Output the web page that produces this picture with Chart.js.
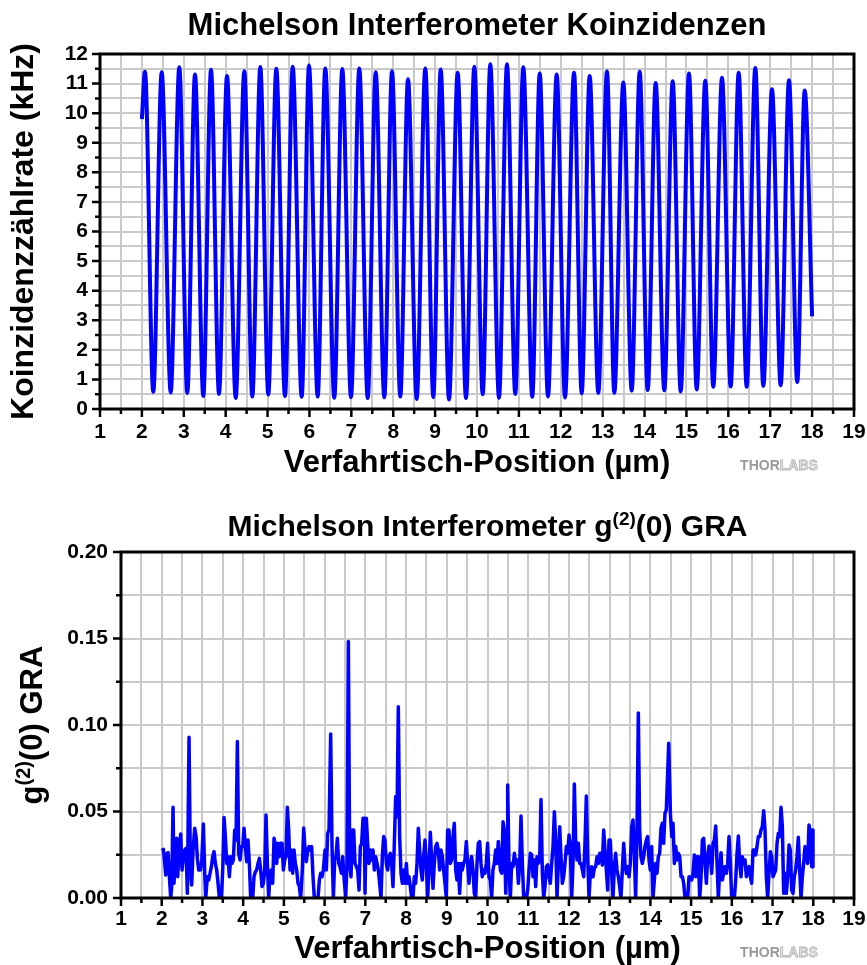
<!DOCTYPE html>
<html>
<head>
<meta charset="utf-8">
<title>Michelson Interferometer</title>
<script src="https://cdn.jsdelivr.net/npm/chart.js@4.4.1/dist/chart.umd.min.js"></script>
<style>
  html, body { margin: 0; padding: 0; background: #fff; }
  #wrap { position: relative; width: 867px; height: 965px; }
  canvas { position: absolute; left: 0; }
  #koinz { top: 0; }
  #g2 { top: 490px; }
</style>
</head>
<body>
<div id="wrap">
  <canvas id="koinz" width="867" height="490"></canvas>
  <canvas id="g2" width="867" height="475"></canvas>
</div>
<script>
// Coincidence rate (kHz) at each fringe extremum along the stage position (µm)
const coincPos = [
  2.000, 2.074, 2.272, 2.473, 2.688, 2.893, 3.084, 3.268, 3.466, 3.650,
  3.841, 4.032, 4.240, 4.445, 4.636, 4.827, 5.018, 5.209, 5.416, 5.600,
  5.815, 5.989, 6.197, 6.378, 6.593, 6.784, 6.992, 7.190, 7.391, 7.582,
  7.787, 7.971, 8.169, 8.353, 8.560, 8.766, 8.957, 9.133, 9.332, 9.539,
  9.737, 9.936, 10.136, 10.317, 10.525, 10.716, 10.914, 11.105, 11.320, 11.497,
  11.695, 11.903, 12.101, 12.316, 12.499, 12.690, 12.896, 13.103, 13.278, 13.493,
  13.693, 13.884, 14.075, 14.266, 14.471, 14.672, 14.863, 15.061, 15.245, 15.450,
  15.641, 15.849, 16.056, 16.247, 16.438, 16.644, 16.835, 17.042, 17.250, 17.448,
  17.646, 17.823, 18.000
];
const coincRate = [
  9.80, 11.40, 0.58, 11.38, 0.56, 11.55, 0.54, 11.31, 0.44, 11.47,
  0.51, 11.26, 0.37, 11.42, 0.42, 11.56, 0.49, 11.50, 0.44, 11.57,
  0.41, 11.61, 0.42, 11.51, 0.38, 11.49, 0.40, 11.51, 0.37, 11.38,
  0.40, 11.42, 0.42, 11.15, 0.34, 11.51, 0.40, 11.48, 0.32, 11.37,
  0.37, 11.57, 0.50, 11.65, 0.38, 11.65, 0.51, 11.55, 0.41, 11.34,
  0.42, 11.31, 0.39, 11.37, 0.53, 11.26, 0.54, 11.41, 0.55, 11.04,
  0.62, 11.40, 0.64, 11.02, 0.63, 11.08, 0.59, 11.34, 0.66, 11.10,
  0.75, 11.20, 0.76, 11.37, 0.75, 11.53, 0.78, 10.81, 0.80, 11.11,
  0.91, 10.77, 3.13
];

// g(2)(0) along the same stage positions
const g2Pos = [
  2.000, 2.041, 2.074, 2.098, 2.131, 2.155, 2.188, 2.221,
  2.245, 2.278, 2.303, 2.336, 2.368, 2.393, 2.426, 2.466,
  2.499, 2.532, 2.565, 2.597, 2.630, 2.671, 2.704, 2.736,
  2.769, 2.810, 2.843, 2.876, 2.908, 2.949, 2.982, 3.023,
  3.056, 3.080, 3.121, 3.154, 3.187, 3.219, 3.252, 3.285,
  3.318, 3.350, 3.383, 3.416, 3.465, 3.498, 3.530, 3.563,
  3.596, 3.628, 3.661, 3.694, 3.727, 3.759, 3.792, 3.825,
  3.858, 3.890, 3.923, 3.956, 3.989, 4.021, 4.054, 4.087,
  4.119, 4.152, 4.185, 4.234, 4.267, 4.300, 4.332, 4.365,
  4.398, 4.430, 4.463, 4.496, 4.529, 4.561, 4.594, 4.627,
  4.660, 4.692, 4.725, 4.758, 4.791, 4.823, 4.856, 4.889,
  4.921, 4.954, 4.987, 5.020, 5.052, 5.085, 5.118, 5.151,
  5.183, 5.216, 5.249, 5.281, 5.314, 5.347, 5.380, 5.412,
  5.453, 5.486, 5.519, 5.552, 5.584, 5.617, 5.650, 5.682,
  5.715, 5.748, 5.797, 5.838, 5.871, 5.903, 5.936, 5.969,
  6.010, 6.043, 6.075, 6.108, 6.149, 6.182, 6.215, 6.247,
  6.280, 6.313, 6.346, 6.378, 6.411, 6.444, 6.476, 6.517,
  6.550, 6.583, 6.616, 6.648, 6.681, 6.714, 6.746, 6.779,
  6.812, 6.845, 6.877, 6.910, 6.943, 6.976, 6.992, 7.025,
  7.057, 7.090, 7.123, 7.156, 7.188, 7.221, 7.254, 7.287,
  7.319, 7.352, 7.385, 7.418, 7.450, 7.483, 7.516, 7.548,
  7.581, 7.614, 7.647, 7.679, 7.712, 7.745, 7.778, 7.810,
  7.843, 7.876, 7.909, 7.941, 7.974, 8.007, 8.039, 8.072,
  8.105, 8.138, 8.170, 8.203, 8.236, 8.269, 8.301, 8.334,
  8.367, 8.399, 8.432, 8.465, 8.498, 8.530, 8.563, 8.596,
  8.629, 8.661, 8.694, 8.727, 8.760, 8.792, 8.825, 8.858,
  8.891, 8.923, 8.956, 8.989, 9.021, 9.054, 9.087, 9.120,
  9.152, 9.185, 9.218, 9.251, 9.283, 9.316, 9.349, 9.381,
  9.414, 9.447, 9.480, 9.512, 9.545, 9.578, 9.611, 9.643,
  9.676, 9.709, 9.742, 9.774, 9.807, 9.840, 9.872, 9.905,
  9.938, 9.971, 10.003, 10.036, 10.069, 10.102, 10.134, 10.167,
  10.200, 10.233, 10.265,
  10.316, 10.349, 10.381, 10.414, 10.447, 10.480, 10.496, 10.529,
  10.561, 10.594, 10.627, 10.660, 10.692, 10.725, 10.758, 10.791,
  10.823, 10.856, 10.889, 10.921, 10.954, 10.987, 11.020, 11.052,
  11.085, 11.118, 11.151, 11.183, 11.216, 11.249, 11.282, 11.314,
  11.347, 11.380, 11.412, 11.445, 11.478, 11.511, 11.543, 11.576,
  11.609, 11.642, 11.674, 11.707, 11.740, 11.773, 11.805, 11.838,
  11.871, 11.903, 11.936, 11.969, 12.002, 12.034, 12.067, 12.100,
  12.133, 12.165, 12.198, 12.231, 12.264, 12.296, 12.329, 12.362,
  12.394, 12.427, 12.460, 12.493, 12.525, 12.558, 12.591, 12.624,
  12.656, 12.689, 12.722, 12.755, 12.787, 12.820, 12.853, 12.885,
  12.918, 12.951, 12.984, 13.016, 13.049, 13.082, 13.115, 13.147,
  13.180, 13.213, 13.245, 13.278, 13.311, 13.344, 13.376, 13.409,
  13.442, 13.475, 13.507, 13.540, 13.573, 13.606, 13.638, 13.671,
  13.704, 13.737, 13.769, 13.802, 13.835, 13.867, 13.900, 13.933,
  13.966, 13.998, 14.031, 14.064, 14.097, 14.129, 14.162, 14.195,
  14.228, 14.260, 14.293, 14.326, 14.358, 14.391, 14.450,
  14.491, 14.524, 14.556, 14.589, 14.622, 14.655, 14.687, 14.720,
  14.753, 14.786, 14.818, 14.851, 14.884, 14.916, 14.949, 14.982,
  15.015, 15.047, 15.080, 15.113, 15.146, 15.178, 15.211, 15.244,
  15.277, 15.309, 15.342, 15.375, 15.407, 15.440, 15.473, 15.506,
  15.538, 15.571, 15.604, 15.637, 15.669, 15.702, 15.735, 15.768,
  15.800, 15.833, 15.866, 15.898, 15.931, 15.964, 15.997, 16.029,
  16.062, 16.095, 16.128, 16.160, 16.193, 16.226, 16.258, 16.291,
  16.324, 16.357, 16.389, 16.422, 16.455, 16.488, 16.520, 16.553,
  16.586, 16.619, 16.651, 16.684, 16.717, 16.749, 16.782, 16.815,
  16.848, 16.880, 16.913, 16.946, 16.979, 17.011, 17.044, 17.077,
  17.110, 17.142, 17.175, 17.208, 17.241, 17.273, 17.306, 17.339,
  17.371, 17.404, 17.437, 17.470, 17.502, 17.535, 17.568, 17.601,
  17.633, 17.666, 17.699, 17.731, 17.764, 17.797, 17.830, 17.862,
  17.895, 17.928, 17.961, 17.977, 17.993
];
const g2Val = [
  0.0274, 0.0281, 0.0200, 0.0133, 0.0258, 0.0262, 0.0123, 0.0000,
  0.0066, 0.0524, 0.0085, 0.0335, 0.0345, 0.0123, 0.0277, 0.0370,
  0.0162, 0.0239, 0.0277, 0.0287, 0.0027, 0.0929, 0.0162, 0.0075,
  0.0277, 0.0403, 0.0355, 0.0229, 0.0162, 0.0162, 0.0210, 0.0428,
  0.0143, 0.0000, 0.0123, 0.0104, 0.0143, 0.0181, 0.0239, 0.0268,
  0.0200, 0.0162, 0.0085, 0.0000, 0.0000, 0.0162, 0.0466, 0.0355,
  0.0200, 0.0239, 0.0123, 0.0239, 0.0200, 0.0220, 0.0393, 0.0335,
  0.0904, 0.0258, 0.0220, 0.0297, 0.0297, 0.0403, 0.0297, 0.0210,
  0.0335, 0.0200, 0.0000, 0.0000, 0.0123, 0.0152, 0.0162, 0.0200,
  0.0229, 0.0162, 0.0066, 0.0085, 0.0162, 0.0480, 0.0200, 0.0000,
  0.0143, 0.0162, 0.0085, 0.0345, 0.0306, 0.0200, 0.0316, 0.0239,
  0.0316, 0.0316, 0.0162, 0.0220, 0.0239, 0.0524, 0.0393, 0.0162,
  0.0277, 0.0143, 0.0277, 0.0200, 0.0162, 0.0085, 0.0066, 0.0000,
  0.0162, 0.0405, 0.0277, 0.0210, 0.0277, 0.0297, 0.0277, 0.0297,
  0.0123, 0.0000, 0.0000, 0.0000, 0.0104, 0.0143, 0.0123, 0.0162,
  0.0277, 0.0162, 0.0374, 0.0393, 0.0948, 0.0297, 0.0000, 0.0220,
  0.0239, 0.0345, 0.0200, 0.0181, 0.0143, 0.0239, 0.0123, 0.0000,
  0.0200, 0.1482, 0.0200, 0.0123, 0.0393, 0.0393, 0.0200, 0.0181,
  0.0162, 0.0046, 0.0297, 0.0316, 0.0461, 0.0461, 0.0027, 0.0461,
  0.0316, 0.0200, 0.0277, 0.0220, 0.0277, 0.0162, 0.0239, 0.0200,
  0.0162, 0.0085, 0.0000, 0.0239, 0.0355, 0.0335, 0.0200, 0.0162,
  0.0239, 0.0258, 0.0200, 0.0066, 0.0316, 0.0586, 0.0470, 0.1106,
  0.0355, 0.0143, 0.0085, 0.0162, 0.0085, 0.0200, 0.0085, 0.0123,
  0.0066, 0.0000, 0.0000, 0.0123, 0.0085, 0.0200, 0.0403, 0.0277,
  0.0162, 0.0104, 0.0239, 0.0335, 0.0200, 0.0000, 0.0162, 0.0380,
  0.0220, 0.0056, 0.0200, 0.0297, 0.0316, 0.0277, 0.0162, 0.0277,
  0.0239, 0.0162, 0.0085, 0.0000, 0.0393, 0.0393, 0.0200, 0.0220,
  0.0355, 0.0432, 0.0162, 0.0104, 0.0200, 0.0027, 0.0200, 0.0162,
  0.0200, 0.0220, 0.0326, 0.0200, 0.0085, 0.0200, 0.0239, 0.0162,
  0.0027, 0.0000, 0.0200, 0.0316, 0.0326, 0.0200, 0.0123, 0.0162,
  0.0143, 0.0200, 0.0316, 0.0123, 0.0104, 0.0000, 0.0162, 0.0200,
  0.0277, 0.0200, 0.0326,
  0.0162, 0.0143, 0.0441, 0.0393, 0.0027, 0.0393, 0.0653, 0.0162,
  0.0000, 0.0200, 0.0181, 0.0258, 0.0200, 0.0220, 0.0085, 0.0200,
  0.0474, 0.0200, 0.0000, 0.0000, 0.0000, 0.0046, 0.0162, 0.0258,
  0.0249, 0.0123, 0.0220, 0.0066, 0.0239, 0.0200, 0.0229, 0.0570,
  0.0143, 0.0000, 0.0066, 0.0181, 0.0191, 0.0123, 0.0085, 0.0200,
  0.0297, 0.0499, 0.0335, 0.0000, 0.0200, 0.0412, 0.0239, 0.0085,
  0.0123, 0.0200, 0.0297, 0.0258, 0.0364, 0.0297, 0.0000, 0.0200,
  0.0659, 0.0335, 0.0220, 0.0316, 0.0200, 0.0200, 0.0162, 0.0123,
  0.0316, 0.0590, 0.0239, 0.0000, 0.0143, 0.0181, 0.0123, 0.0172,
  0.0181, 0.0239, 0.0200, 0.0258, 0.0258, 0.0191, 0.0393, 0.0277,
  0.0162, 0.0046, 0.0335, 0.0335, 0.0143, 0.0000, 0.0181, 0.0258,
  0.0162, 0.0123, 0.0066, 0.0000, 0.0162, 0.0316, 0.0200, 0.0143,
  0.0181, 0.0123, 0.0200, 0.0412, 0.0451, 0.0258, 0.0000, 0.0393,
  0.1070, 0.0393, 0.0239, 0.0200, 0.0239, 0.0297, 0.0335, 0.0355,
  0.0220, 0.0162, 0.0297, 0.0000, 0.0104, 0.0200, 0.0143, 0.0239,
  0.0258, 0.0403, 0.0432, 0.0316, 0.0489, 0.0509, 0.0894,
  0.0489, 0.0355, 0.0432, 0.0200, 0.0297, 0.0220, 0.0258, 0.0239,
  0.0123, 0.0123, 0.0085, 0.0000, 0.0000, 0.0000, 0.0123, 0.0114,
  0.0104, 0.0143, 0.0249, 0.0123, 0.0239, 0.0239, 0.0000, 0.0123,
  0.0335, 0.0345, 0.0200, 0.0085, 0.0239, 0.0301, 0.0239, 0.0143,
  0.0316, 0.0335, 0.0416, 0.0200, 0.0000, 0.0162, 0.0262, 0.0104,
  0.0143, 0.0181, 0.0143, 0.0200, 0.0355, 0.0200, 0.0000, 0.0000,
  0.0000, 0.0104, 0.0258, 0.0358, 0.0200, 0.0123, 0.0239, 0.0200,
  0.0220, 0.0123, 0.0162, 0.0181, 0.0123, 0.0085, 0.0277, 0.0277,
  0.0249, 0.0297, 0.0355, 0.0355, 0.0393, 0.0412, 0.0505, 0.0393,
  0.0123, 0.0000, 0.0143, 0.0268, 0.0239, 0.0123, 0.0143, 0.0162,
  0.0316, 0.0374, 0.0355, 0.0524, 0.0412, 0.0027, 0.0143, 0.0027,
  0.0123, 0.0306, 0.0277, 0.0046, 0.0027, 0.0123, 0.0162, 0.0239,
  0.0351, 0.0162, 0.0000, 0.0123, 0.0200, 0.0297, 0.0239, 0.0200,
  0.0422, 0.0374, 0.0181, 0.0393, 0.0181
];

const FAMILY = '"Liberation Sans", Arial, Helvetica, sans-serif';
const BLUE = '#0000ff';
const GRID = '#c9c9c9';

const tickFont = { family: FAMILY, size: 21, weight: 'bold' };
const xTitleFont = { family: FAMILY, size: 31, weight: 'bold', lineHeight: 1 };
const yTitleFont = { family: FAMILY, size: 32, weight: 'bold', lineHeight: 1 };

// Text made of runs, some raised as superscripts; x/y is the centre of the baseline
function drawRich(ctx, parts, x, y, vertical) {
  ctx.save();
  ctx.translate(x, y);
  if (vertical) ctx.rotate(-Math.PI / 2);
  ctx.fillStyle = '#000';
  ctx.textAlign = 'left';
  ctx.textBaseline = 'alphabetic';
  const widths = parts.map(p => {
    ctx.font = `bold ${p.size}px ${FAMILY}`;
    return ctx.measureText(p.text).width;
  });
  let cx = -widths.reduce((a, b) => a + b, 0) / 2;
  parts.forEach((p, i) => {
    ctx.font = `bold ${p.size}px ${FAMILY}`;
    ctx.fillText(p.text, cx, -(p.rise || 0));
    cx += widths[i];
  });
  ctx.restore();
}

function drawLogo(ctx, x, y) {
  ctx.save();
  ctx.font = `bold 14px ${FAMILY}`;
  ctx.textBaseline = 'middle';
  ctx.textAlign = 'left';
  const w1 = ctx.measureText('THOR').width;
  const w2 = ctx.measureText('LABS').width;
  const x0 = x - (w1 + w2) / 2;
  ctx.fillStyle = '#999999';
  ctx.fillText('THOR', x0, y);
  ctx.fillStyle = '#e4e4e4';
  ctx.strokeStyle = '#b4b4b4';
  ctx.lineWidth = 0.8;
  ctx.fillText('LABS', x0 + w1, y);
  ctx.strokeText('LABS', x0 + w1, y);
  ctx.restore();
}

// Box around the plot area, outward tick marks, titles and logo
const decor = {
  id: 'decor',
  afterDatasetsDraw(chart) {
    const { ctx, chartArea: a, scales: { x, y } } = chart;
    ctx.save();
    ctx.strokeStyle = '#000';
    ctx.lineWidth = 2.5;
    ctx.beginPath();
    x.ticks.forEach(t => {
      const px = x.getPixelForValue(t.value);
      ctx.moveTo(px, a.bottom);
      ctx.lineTo(px, a.bottom + (t.label !== '' ? 8 : 5));
    });
    y.ticks.forEach(t => {
      const py = y.getPixelForValue(t.value);
      ctx.moveTo(a.left, py);
      ctx.lineTo(a.left - (t.label !== '' ? 8 : 5), py);
    });
    ctx.stroke();
    ctx.lineWidth = 3;
    ctx.strokeRect(a.left, a.top, a.right - a.left, a.bottom - a.top);
    ctx.restore();
  },
  afterDraw(chart, args, opts) {
    const { ctx, chartArea: a } = chart;
    const cx = (a.left + a.right) / 2;
    drawRich(ctx, opts.title, cx, opts.titleBaseline, false);
    if (opts.yTitle) drawRich(ctx, opts.yTitle, opts.yTitleX, (a.top + a.bottom) / 2, true);
    drawLogo(ctx, opts.logoX, opts.logoY);
  }
};

function xScale(height, labelPad, titlePad) {
  return {
    type: 'linear', min: 1, max: 19,
    afterFit(s) { s.height = height; s.paddingLeft = 0; s.paddingRight = 0; },
    ticks: {
      stepSize: 0.5, autoSkip: false, maxRotation: 0, padding: labelPad,
      color: '#000', font: tickFont,
      callback: v => (Number.isInteger(v) ? String(v) : '')
    },
    grid: { color: GRID, lineWidth: 2, drawTicks: false },
    border: { display: false },
    title: {
      display: true, text: 'Verfahrtisch-Position (µm)', color: '#000',
      font: xTitleFont, padding: { top: 0, bottom: titlePad }
    }
  };
}

const baseOptions = {
  responsive: false,
  animation: false,
  events: [],
  plugins: { legend: { display: false }, tooltip: { enabled: false } }
};

new Chart(document.getElementById('koinz'), {
  type: 'line',
  data: {
    datasets: [{
      data: coincPos.map((p, i) => ({ x: p, y: coincRate[i] })),
      borderColor: BLUE,
      borderWidth: 4,
      pointRadius: 0,
      cubicInterpolationMode: 'monotone',
      fill: false
    }]
  },
  options: {
    ...baseOptions,
    layout: { padding: { top: 54, right: 13, left: 0, bottom: 0 } },
    plugins: {
      ...baseOptions.plugins,
      decor: {
        title: [{ text: 'Michelson Interferometer Koinzidenzen', size: 31 }],
        titleBaseline: 35,
        logoX: 779, logoY: 466
      }
    },
    scales: {
      x: xScale(81, 11, 11),
      y: {
        min: 0, max: 12,
        afterFit(s) { s.width = 100; s.paddingTop = 0; s.paddingBottom = 0; },
        ticks: {
          stepSize: 0.5, autoSkip: false, padding: 12, color: '#000', font: tickFont,
          callback: v => (Number.isInteger(v) ? String(v) : '')
        },
        grid: { color: GRID, lineWidth: 2, drawTicks: false },
        border: { display: false },
        title: {
          display: true, text: 'Koinzidenzzählrate (kHz)', color: '#000',
          font: yTitleFont, padding: { top: 8, bottom: 0 }
        }
      }
    }
  },
  plugins: [decor]
});

new Chart(document.getElementById('g2'), {
  type: 'line',
  data: {
    datasets: [{
      data: g2Pos.map((p, i) => ({ x: p, y: g2Val[i] })),
      borderColor: BLUE,
      borderWidth: 3.5,
      borderJoinStyle: 'round',
      pointRadius: 0,
      tension: 0,
      fill: false
    }]
  },
  options: {
    ...baseOptions,
    layout: { padding: { top: 62, right: 13, left: 0, bottom: 0 } },
    plugins: {
      ...baseOptions.plugins,
      decor: {
        title: [
          { text: 'Michelson Interferometer g', size: 30 },
          { text: '(2)', size: 19, rise: 11 },
          { text: '(0) GRA', size: 30 }
        ],
        titleBaseline: 46,
        yTitle: [
          { text: 'g', size: 31 },
          { text: '(2)', size: 20, rise: 12 },
          { text: '(0) GRA', size: 31 }
        ],
        yTitleX: 42,
        logoX: 779, logoY: 463
      }
    },
    scales: {
      x: xScale(67, 9, 0),
      y: {
        min: 0, max: 0.2,
        afterFit(s) { s.width = 121; s.paddingTop = 0; s.paddingBottom = 0; },
        ticks: {
          stepSize: 0.025, autoSkip: false, padding: 13, color: '#000', font: tickFont,
          callback: v => {
            const k = v / 0.05;
            return Math.abs(k - Math.round(k)) < 1e-6 ? v.toFixed(2) : '';
          }
        },
        grid: { color: GRID, lineWidth: 2, drawTicks: false },
        border: { display: false },
        title: { display: false }
      }
    }
  },
  plugins: [decor]
});
</script>
</body>
</html>
